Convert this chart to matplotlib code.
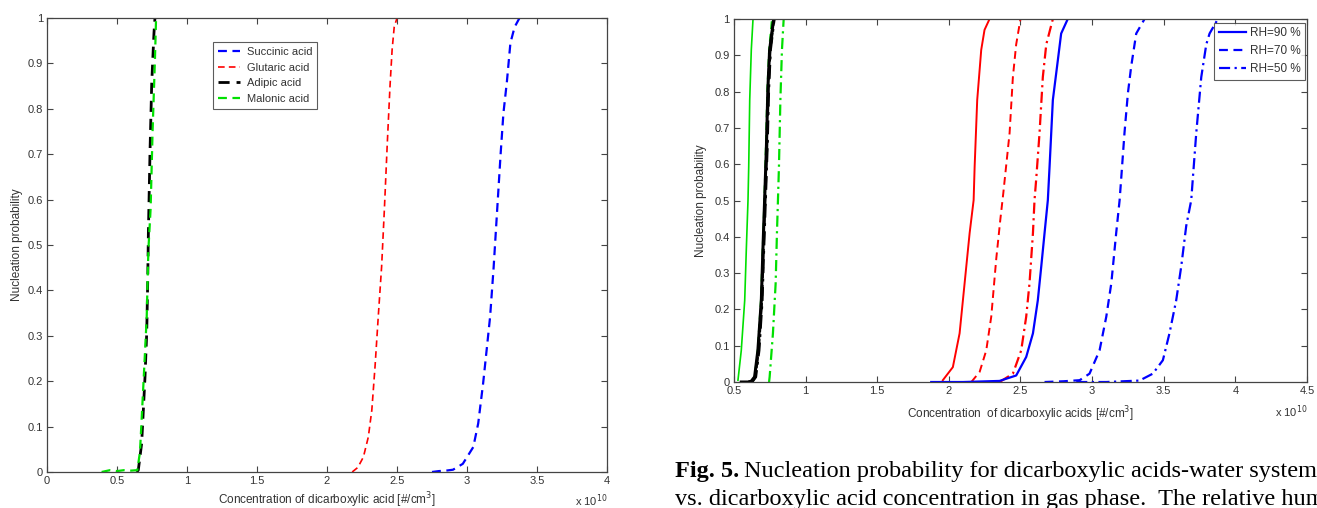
import matplotlib
matplotlib.use('Agg')
import matplotlib.pyplot as plt

plt.rcParams['font.family'] = ['Liberation Sans', 'DejaVu Sans']
plt.rcParams['font.size'] = 8

# ---- left panel data (x in units of 1e10 #/cm3) ----
succ_x = [2.75, 2.80, 2.85, 2.90, 2.97, 3.045, 3.08, 3.115, 3.14, 3.165, 3.19, 3.22, 3.24, 3.26, 3.285, 3.31, 3.34, 3.375]
succ_y = [0.0, 0.002, 0.003, 0.005, 0.018, 0.055, 0.107, 0.195, 0.268, 0.342, 0.45, 0.6, 0.7, 0.79, 0.86, 0.945, 0.98, 1.0]
glut_x = [2.18, 2.22, 2.26, 2.295, 2.32, 2.343, 2.366, 2.39, 2.41, 2.43, 2.45, 2.465, 2.48, 2.50]
glut_y = [0.0, 0.01, 0.033, 0.077, 0.136, 0.232, 0.342, 0.452, 0.58, 0.72, 0.85, 0.93, 0.98, 1.0]
adip_x = [0.64, 0.652, 0.676, 0.688, 0.70, 0.712, 0.719, 0.724, 0.736, 0.748, 0.764, 0.771]
adip_y = [0.0, 0.004, 0.063, 0.136, 0.21, 0.305, 0.415, 0.526, 0.71, 0.857, 0.967, 1.0]
malo_x = [0.39, 0.45, 0.50, 0.55, 0.60, 0.645, 0.664, 0.688, 0.712, 0.724, 0.74, 0.754, 0.771, 0.779]
malo_y = [0.0, 0.004, 0.002, 0.004, 0.003, 0.004, 0.044, 0.19, 0.34, 0.489, 0.58, 0.75, 0.91, 1.0]
left_labels = ['Succinic acid', 'Glutaric acid', 'Adipic acid', 'Malonic acid']

# ---- right panel data: RH = 90 / 70 / 50 % ----
mal90_x = [0.528, 0.551, 0.575, 0.586, 0.598, 0.603, 0.61, 0.621, 0.633]
mal90_y = [0.005, 0.087, 0.225, 0.363, 0.501, 0.593, 0.777, 0.915, 1.0]
mal70_x = [0.63, 0.645, 0.665, 0.688, 0.70, 0.712, 0.722, 0.733, 0.745, 0.765]
mal70_y = [0.0, 0.014, 0.087, 0.225, 0.363, 0.501, 0.64, 0.81, 0.915, 1.0]
mal50_x = [0.745, 0.749, 0.772, 0.791, 0.80, 0.807, 0.814, 0.824, 0.835, 0.847]
mal50_y = [0.0, 0.014, 0.134, 0.272, 0.41, 0.50, 0.593, 0.777, 0.915, 1.0]

adi90_x = [0.551, 0.60, 0.62, 0.644, 0.667, 0.691, 0.702, 0.714, 0.726, 0.737, 0.749, 0.777]
adi90_y = [0.0, 0.0, 0.002, 0.014, 0.087, 0.225, 0.363, 0.501, 0.64, 0.81, 0.915, 1.0]
adi70_x = [0.60, 0.625, 0.648, 0.671, 0.694, 0.705, 0.717, 0.729, 0.740, 0.752, 0.779]
adi70_y = [0.0, 0.002, 0.014, 0.087, 0.225, 0.363, 0.501, 0.64, 0.81, 0.915, 1.0]
adi50_x = [0.62, 0.63, 0.652, 0.675, 0.697, 0.708, 0.720, 0.732, 0.743, 0.755, 0.781]
adi50_y = [0.0, 0.002, 0.014, 0.087, 0.225, 0.363, 0.501, 0.64, 0.81, 0.915, 1.0]

glu90_x = [1.958, 2.028, 2.075, 2.11, 2.145, 2.173, 2.18, 2.198, 2.226, 2.249, 2.284]
glu90_y = [0.005, 0.041, 0.134, 0.272, 0.41, 0.501, 0.593, 0.777, 0.915, 0.97, 1.0]
glu70_x = [2.157, 2.215, 2.261, 2.296, 2.331, 2.36, 2.38, 2.424, 2.447, 2.47, 2.50]
glu70_y = [0.0, 0.028, 0.087, 0.18, 0.34, 0.45, 0.52, 0.686, 0.84, 0.93, 1.0]
glu50_x = [2.354, 2.447, 2.505, 2.54, 2.563, 2.587, 2.598, 2.61, 2.633, 2.656, 2.68, 2.726]
glu50_y = [0.0, 0.023, 0.087, 0.18, 0.272, 0.41, 0.501, 0.56, 0.686, 0.84, 0.93, 1.0]

suc90_x = [1.877, 2.1, 2.354, 2.47, 2.54, 2.587, 2.621, 2.645, 2.668, 2.691, 2.703, 2.726, 2.761, 2.784, 2.83]
suc90_y = [0.0, 0.0, 0.003, 0.018, 0.069, 0.134, 0.225, 0.318, 0.41, 0.501, 0.593, 0.777, 0.887, 0.96, 1.0]
suc70_x = [2.668, 2.80, 2.913, 2.982, 3.052, 3.099, 3.134, 3.168, 3.192, 3.203, 3.226, 3.25, 3.273, 3.308, 3.366]
suc70_y = [0.0, 0.002, 0.005, 0.023, 0.087, 0.18, 0.272, 0.41, 0.501, 0.56, 0.686, 0.796, 0.87, 0.96, 1.0]
suc50_x = [2.889, 3.1, 3.331, 3.424, 3.494, 3.54, 3.587, 3.622, 3.657, 3.692, 3.703, 3.727, 3.762, 3.797, 3.82, 3.878]
suc50_y = [0.0, 0.0, 0.004, 0.023, 0.06, 0.134, 0.225, 0.318, 0.43, 0.501, 0.56, 0.686, 0.84, 0.93, 0.96, 1.0]
right_labels = ['RH=90 %', 'RH=70 %', 'RH=50 %']

yticks = [0, 0.1, 0.2, 0.3, 0.4, 0.5, 0.6, 0.7, 0.8, 0.9, 1]
ytick_labels = ['0', '0.1', '0.2', '0.3', '0.4', '0.5', '0.6', '0.7', '0.8', '0.9', '1']
left_xticks = [0, 0.5, 1, 1.5, 2, 2.5, 3, 3.5, 4]
right_xticks = [0.5, 1, 1.5, 2, 2.5, 3, 3.5, 4, 4.5]

GREEN = '#00e000'
TXT = '#333333'

DASH = (0, (4, 2.5))
DASHDOT = (0, (5, 2, 1, 2))


def style_axes(ax, xticks, xlim):
    ax.set_xlim(*xlim)
    ax.set_ylim(0, 1)
    ax.set_xticks(xticks)
    ax.set_xticklabels([f'{t:g}' for t in xticks])
    ax.set_yticks(yticks)
    ax.set_yticklabels(ytick_labels)
    ax.tick_params(direction='in', length=4, width=0.8, top=True, right=True,
                   colors='#444444', labelcolor=TXT, labelsize=8, pad=3)
    for s in ax.spines.values():
        s.set_color('#444444')
        s.set_linewidth(0.9)


fig = plt.figure(figsize=(13.17, 5.08), dpi=100)

# ---- left panel ----
ax1 = fig.add_axes([0.0357, 0.0709, 0.4252, 0.8937])
ax1.plot(succ_x, succ_y, color='blue', ls=DASH, lw=1.6, label=left_labels[0])
ax1.plot(glut_x, glut_y, color='red', ls=DASH, lw=1.2, label=left_labels[1])
ax1.plot(adip_x, adip_y, color='black', ls=DASH, lw=2.0, label=left_labels[2])
ax1.plot(malo_x, malo_y, color=GREEN, ls=DASH, lw=1.6, label=left_labels[3])
style_axes(ax1, left_xticks, (0, 4))
leg1 = ax1.legend(loc='upper left', bbox_to_anchor=(0.296, 0.947), fontsize=8,
                  frameon=True, fancybox=False, edgecolor='#333333', borderaxespad=0.0,
                  handlelength=2.0, borderpad=0.45, labelspacing=0.5, handletextpad=0.6)
leg1.get_frame().set_linewidth(0.8)
for t in leg1.get_texts():
    t.set_color(TXT)
ax1.set_xlabel('Concentration of dicarboxylic acid [#/cm$^3$]', color=TXT, fontsize=8.5, labelpad=3)
ax1.set_ylabel('Nucleation probability', color=TXT, fontsize=8.5, labelpad=3)
ax1.text(1.0, -0.045, 'x 10$^{10}$', transform=ax1.transAxes, ha='right', va='top',
         color=TXT, fontsize=8)

# ---- right panel ----
ax2 = fig.add_axes([0.5573, 0.248, 0.4351, 0.7146])
ax2.plot(mal90_x, mal90_y, color=GREEN, ls='-', lw=1.2)
ax2.plot(mal70_x, mal70_y, color=GREEN, ls=DASH, lw=1.4)
ax2.plot(mal50_x, mal50_y, color=GREEN, ls=DASHDOT, lw=1.6)
ax2.plot(adi90_x, adi90_y, color='black', ls='-', lw=2.2)
ax2.plot(adi70_x, adi70_y, color='black', ls=DASH, lw=2.0)
ax2.plot(adi50_x, adi50_y, color='black', ls=DASHDOT, lw=2.0)
ax2.plot(glu90_x, glu90_y, color='red', ls='-', lw=1.4)
ax2.plot(glu70_x, glu70_y, color='red', ls=DASH, lw=1.4)
ax2.plot(glu50_x, glu50_y, color='red', ls=DASHDOT, lw=1.6)
ax2.plot(suc90_x, suc90_y, color='blue', ls='-', lw=1.6, label=right_labels[0])
ax2.plot(suc70_x, suc70_y, color='blue', ls=DASH, lw=1.6, label=right_labels[1])
ax2.plot(suc50_x, suc50_y, color='blue', ls=DASHDOT, lw=1.6, label=right_labels[2])
style_axes(ax2, right_xticks, (0.5, 4.5))
leg2 = ax2.legend(loc='upper right', bbox_to_anchor=(0.997, 0.99), fontsize=8.5,
                  frameon=True, fancybox=False, edgecolor='#333333',
                  handlelength=2.3, borderpad=0.4, labelspacing=0.5, handletextpad=0.3,
                  borderaxespad=0.0)
leg2.get_frame().set_linewidth(0.8)
for t in leg2.get_texts():
    t.set_color(TXT)
ax2.set_xlabel('Concentration  of dicarboxylic acids [#/cm$^3$]', color=TXT, fontsize=8.5, labelpad=6)
ax2.set_ylabel('Nucleation probability', color=TXT, fontsize=8.5, labelpad=5)
ax2.text(1.0, -0.06, 'x 10$^{10}$', transform=ax2.transAxes, ha='right', va='top',
         color=TXT, fontsize=8)

# ---- caption (runs off the right edge, as in the source page) ----
cap_size = 17.5
t_fig = fig.text(675 / 1317, 1 - 472 / 508, 'Fig. 5.', family='Liberation Serif', fontsize=cap_size,
                 fontweight='bold', va='center', ha='left', color='black')
fig.canvas.draw()
bb = t_fig.get_window_extent()
fig.text((bb.x1 + 5) / 1317, 1 - 472 / 508,
         'Nucleation probability for dicarboxylic acids-water system',
         family='Liberation Serif', fontsize=cap_size, va='center', ha='left', color='black')
fig.text(675 / 1317, 1 - 500 / 508,
         'vs. dicarboxylic acid concentration in gas phase.  The relative humidity',
         family='Liberation Serif', fontsize=cap_size, va='center', ha='left', color='black')

fig.savefig('out.png', dpi=100)
